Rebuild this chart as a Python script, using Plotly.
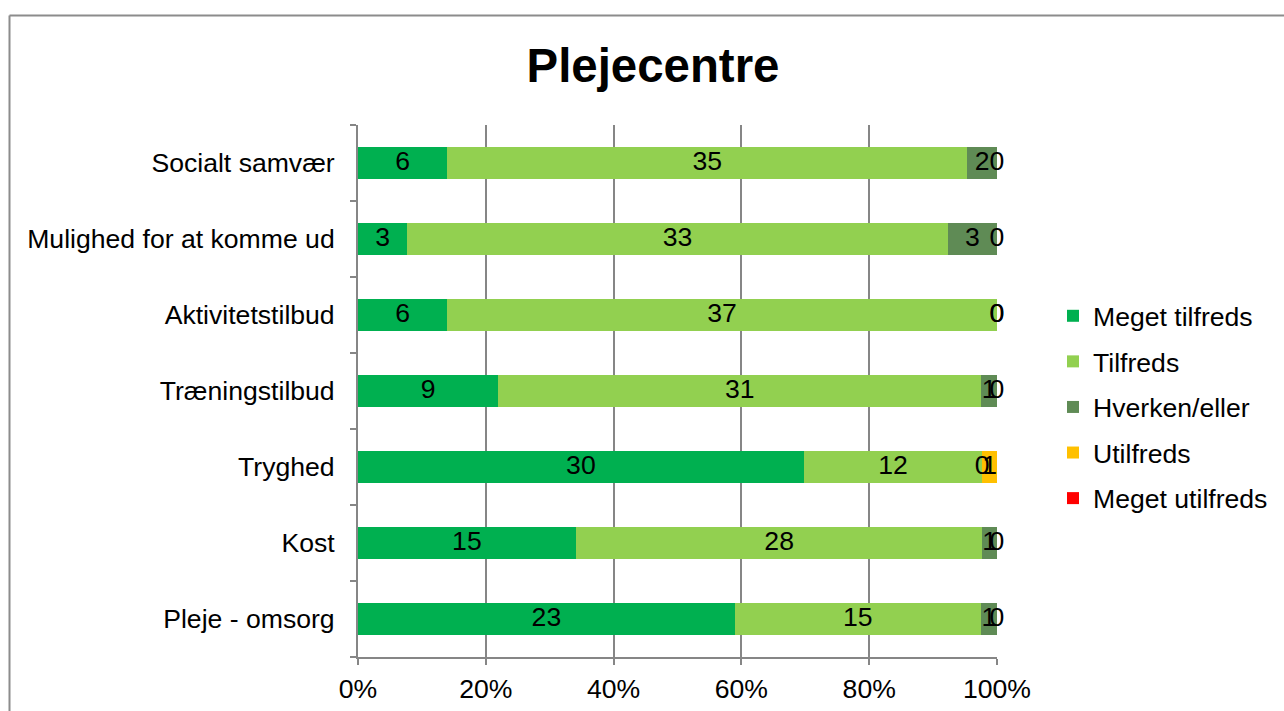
import plotly.graph_objects as go

categories = ["Socialt samvær", "Mulighed for at komme ud", "Aktivitetstilbud",
              "Træningstilbud", "Tryghed", "Kost", "Pleje - omsorg"]
series_names = ["Meget tilfreds", "Tilfreds", "Hverken/eller", "Utilfreds", "Meget utilfreds"]
meget_tilfreds = [6, 3, 6, 9, 30, 15, 23]
tilfreds = [35, 33, 37, 31, 12, 28, 15]
hverken_eller = [2, 3, 0, 1, 0, 1, 1]
utilfreds = [0, 0, 0, 0, 1, 0, 0]
meget_utilfreds = [0, 0, 0, 0, 0, 0, 0]
colors = ["#00B050", "#92D050", "#5F8B55", "#FFC000", "#FF0000"]
tick_vals = [0, 20, 40, 60, 80, 100]
tick_text = ["0%", "20%", "40%", "60%", "80%", "100%"]

series = [meget_tilfreds, tilfreds, hverken_eller, utilfreds, meget_utilfreds]
totals = [sum(s[i] for s in series) for i in range(len(categories))]

FONT = "Liberation Sans, Arial, sans-serif"
FS = 26.6
fig = go.Figure()

label_x, label_y, label_t = [], [], []
cum = [0.0] * len(categories)
for name, vals, col in zip(series_names, series, colors):
    pct = [v / t * 100 for v, t in zip(vals, totals)]
    fig.add_trace(go.Bar(
        y=categories, x=pct, name=name, orientation="h",
        marker=dict(color=col, line=dict(width=0)),
        legendgroup=name, textposition="none", hoverinfo="skip"))
    if name != "Meget utilfreds":
        for i, (p, v) in enumerate(zip(pct, vals)):
            label_x.append(round(min(cum[i] + p / 2, 100.0), 6))
            label_y.append(categories[i])
            label_t.append(str(v))
    cum = [c + p for c, p in zip(cum, pct)]

fig.add_trace(go.Scatter(
    x=label_x, y=label_y, text=label_t, mode="text",
    textfont=dict(family=FONT, size=FS, color="black"),
    showlegend=False, hoverinfo="skip", cliponaxis=False))

W, H = 1284, 711
L, R, T, B = 358, 997, 125, 657
pw, ph = R - L, B - T

def px2x(px):
    return (px - L) / pw

def py2y(py):
    return (B - py) / ph

border_col = "#8C8C8C"
fig.add_shape(type="line", xref="paper", yref="paper",
              x0=px2x(9.5), x1=px2x(1300), y0=py2y(15.5), y1=py2y(15.5),
              line=dict(color=border_col, width=2))
fig.add_shape(type="line", xref="paper", yref="paper",
              x0=px2x(9.5), x1=px2x(9.5), y0=py2y(15.5), y1=py2y(730),
              line=dict(color=border_col, width=2))

fig.update_layout(
    width=W, height=H,
    margin=dict(l=L, r=W - R, t=T, b=H - B, pad=0, autoexpand=False),
    barmode="stack", bargap=0.58,
    paper_bgcolor="white", plot_bgcolor="white",
    font=dict(family=FONT, size=FS, color="black"),
    title=dict(text="<b>Plejecentre</b>", xref="container", x=653 / W,
               xanchor="center", yref="container", y=1 - 65 / H, yanchor="middle",
               font=dict(family=FONT, size=47.4, color="black")),
    legend=dict(x=px2x(1053), xanchor="left", y=py2y(407), yanchor="middle",
                font=dict(family=FONT, size=FS, color="black"),
                traceorder="grouped", tracegroupgap=8, itemwidth=30,
                bgcolor="rgba(0,0,0,0)"),
    showlegend=True,
)
fig.update_xaxes(range=[0, 100], tickvals=tick_vals, ticktext=tick_text,
                 showgrid=True, gridcolor="#868686", gridwidth=1.5,
                 showline=True, linecolor="#868686", linewidth=2,
                 ticks="outside", ticklen=6, tickcolor="#868686", tickwidth=2,
                 zeroline=False, tickfont=dict(family=FONT, size=FS, color="black"),
                 ticklabelstandoff=1, automargin=False, fixedrange=True)
fig.update_yaxes(categoryorder="array", categoryarray=categories[::-1],
                 showline=True, linecolor="#868686", linewidth=2,
                 ticks="outside", ticklen=6, tickcolor="#868686", tickwidth=2,
                 tickson="boundaries", showgrid=False,
                 tickfont=dict(family=FONT, size=FS, color="black"),
                 ticklabelstandoff=16, automargin=False, fixedrange=True)

fig.write_html("out.html", config={"displayModeBar": False},
               post_script="document.body.style.margin='0';document.body.style.overflow='hidden';")
